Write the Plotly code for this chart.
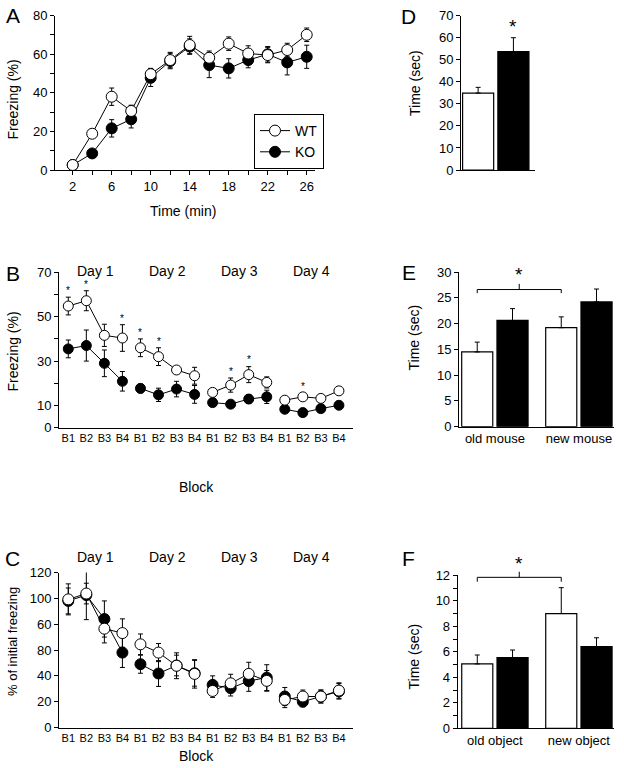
import plotly.graph_objects as go

W, H = 624, 768
FONT = "Liberation Sans, Arial, sans-serif"

# ---------------- data ----------------
# Panel A: freezing during conditioning
time_min = [2, 4, 6, 8, 10, 12, 14, 16, 18, 20, 22, 24, 26]
a_wt = [2.6, 18.8, 38.0, 30.6, 49.7, 57.0, 64.8, 58.2, 65.5, 60.4, 59.6, 62.2, 70.1]
a_wt_err = [1.0, 2.0, 4.5, 3.0, 3.0, 4.0, 4.5, 3.5, 3.5, 4.0, 4.0, 3.5, 3.5]
a_ko = [2.6, 8.6, 21.6, 26.3, 47.8, 56.5, 64.0, 54.4, 52.7, 57.0, 60.0, 55.8, 58.7]
a_ko_err = [1.0, 1.5, 4.5, 4.5, 4.5, 4.0, 4.0, 6.5, 5.0, 4.0, 4.0, 6.5, 6.0]

# Panels B and C: 4 days x 4 blocks
days = ["Day 1", "Day 2", "Day 3", "Day 4"]
blocks = ["B1", "B2", "B3", "B4"]
b_wt = [54.8, 57.2, 41.6, 40.4, 36.0, 32.0, 26.0, 23.4, 15.9, 19.2, 23.9, 20.4, 12.4, 13.9, 13.2, 16.6]
b_wt_err = [4.0, 4.5, 5.0, 6.0, 4.0, 4.0, 1.5, 3.8, 1.5, 3.2, 3.6, 2.5, 1.0, 1.5, 1.0, 1.5]
b_ko = [35.5, 37.0, 29.0, 20.9, 17.7, 14.8, 17.4, 15.0, 11.3, 10.6, 12.9, 13.9, 8.3, 6.8, 8.6, 10.1]
b_ko_err = [4.0, 7.0, 6.0, 4.4, 2.0, 3.0, 3.5, 4.0, 1.5, 1.0, 2.0, 3.0, 1.0, 1.0, 1.0, 1.0]
b_sig = [1, 1, 0, 1, 1, 1, 0, 0, 0, 1, 1, 0, 0, 1, 0, 0]

c_wt = [99.2, 103.7, 76.5, 73.1, 64.4, 58.0, 47.8, 41.5, 28.3, 34.2, 41.5, 36.1, 21.4, 24.0, 24.0, 28.6]
c_wt_err = [12.0, 8.0, 11.0, 11.0, 8.0, 7.0, 10.0, 11.0, 5.0, 7.0, 9.0, 8.0, 6.0, 5.0, 5.0, 6.0]
c_ko = [98.0, 102.5, 84.0, 58.0, 49.0, 41.8, 48.0, 42.0, 33.0, 30.4, 36.0, 38.6, 24.0, 20.0, 24.0, 28.0]
c_ko_err = [10.0, 19.0, 14.0, 11.5, 7.0, 10.0, 8.0, 10.0, 7.0, 6.0, 8.0, 10.0, 7.0, 4.0, 5.0, 6.0]
c_ticktext = ["0", "20", "40", "80", "60", "100", "120"]

# Panel D
d_wt, d_wt_err = [34.9], [2.6]
d_ko, d_ko_err = [53.7], [6.3]

# Panel E
e_cats = ["old mouse", "new mouse"]
e_wt, e_wt_err = [14.5, 19.2], [1.9, 2.1]
e_ko, e_ko_err = [20.6, 24.2], [2.3, 2.5]

# Panel F
f_cats = ["old object", "new object"]
f_wt, f_wt_err = [5.05, 9.0], [0.7, 2.03]
f_ko, f_ko_err = [5.54, 6.4], [0.6, 0.7]

# ---------------- helpers ----------------
def xdom(x0, x1):
    return [x0 / W, x1 / W]

def ydom(top, bottom):
    return [1 - bottom / H, 1 - top / H]

def px_x(x):
    return x / W

def px_y(y):
    return 1 - y / H

AX = dict(showline=True, linecolor="black", linewidth=1, showgrid=False, zeroline=False,
          ticks="outside", ticklen=4, tickwidth=1, tickcolor="black", automargin=False,
          tickfont=dict(family=FONT, size=13, color="black"))

def err(arr):
    return dict(type="data", array=arr, visible=True, color="black", thickness=1, width=2.5)

def marker(filled, size=10):
    return dict(symbol="circle", size=size, color="black" if filled else "white",
                line=dict(color="black", width=1))

fig = go.Figure()

# ---------------- Panel A ----------------
fig.add_trace(go.Scatter(x=time_min, y=a_ko, error_y=err(a_ko_err), mode="lines+markers",
                         name="KO", line=dict(color="black", width=1), marker=marker(True, 11),
                         xaxis="x", yaxis="y", legendrank=2))
fig.add_trace(go.Scatter(x=time_min, y=a_wt, error_y=err(a_wt_err), mode="lines+markers",
                         name="WT", line=dict(color="black", width=1), marker=marker(False, 11),
                         xaxis="x", yaxis="y", legendrank=1))

# ---------------- Panels B & C ----------------
def day_traces(wt, wt_e, ko, ko_e, xa, ya, size):
    for vals, errs, filled in ((ko, ko_e, True), (wt, wt_e, False)):
        for d in range(len(days)):
            sl = slice(4 * d, 4 * d + 4)
            fig.add_trace(go.Scatter(
                x=list(range(4 * d, 4 * d + 4)), y=vals[sl], error_y=err(errs[sl]),
                mode="lines+markers", line=dict(color="black", width=1),
                marker=marker(filled, size), showlegend=False, xaxis=xa, yaxis=ya))

day_traces(b_wt, b_wt_err, b_ko, b_ko_err, "x2", "y2", 10)
day_traces(c_wt, c_wt_err, c_ko, c_ko_err, "x3", "y3", 11)

# ---------------- Bars D, E, F ----------------
BW = 0.37
OFF_WT, OFF_KO = -0.395, 0.025

def bars(xs, wt, wt_e, ko, ko_e, xa, ya):
    fig.add_trace(go.Bar(x=xs, y=wt, error_y=dict(type="data", array=wt_e, visible=True, color="black",
                                                 thickness=1, width=2.5, symmetric=False, arrayminus=[0] * len(wt)),
                         width=BW, offset=OFF_WT, marker=dict(color="white", line=dict(color="black", width=1.2)),
                         showlegend=False, xaxis=xa, yaxis=ya))
    fig.add_trace(go.Bar(x=xs, y=ko, error_y=dict(type="data", array=ko_e, visible=True, color="black",
                                                 thickness=1, width=2.5, symmetric=False, arrayminus=[0] * len(ko)),
                         width=BW, offset=OFF_KO, marker=dict(color="black", line=dict(color="black", width=1.2)),
                         showlegend=False, xaxis=xa, yaxis=ya))

bars([0], d_wt, d_wt_err, d_ko, d_ko_err, "x4", "y4")
bars([0, 1], e_wt, e_wt_err, e_ko, e_ko_err, "x5", "y5")
bars([0, 1], f_wt, f_wt_err, f_ko, f_ko_err, "x6", "y6")

# ---------------- Layout ----------------
blk_ticks = list(range(16))
blk_text = blocks * 4

DOM = {
    "A": (xdom(55, 315), ydom(15.7, 170), [0, 80]),
    "B": (xdom(59, 353), ydom(272.3, 427.7), [0, 70]),
    "C": (xdom(59, 353), ydom(572.5, 727.5), [0, 120]),
    "D": (xdom(461, 535), ydom(15.7, 170), [0, 70]),
    "E": (xdom(459, 614), ydom(272, 426.7), [0, 30]),
    "F": (xdom(457.7, 614), ydom(575.3, 728.3), [0, 12]),
}

def yval_to_paper(panel, v):
    _, yd, yr = DOM[panel]
    return yd[0] + (v - yr[0]) / (yr[1] - yr[0]) * (yd[1] - yd[0])

layout = dict(
    width=W, height=H, margin=dict(l=0, r=0, t=0, b=0, autoexpand=False),
    paper_bgcolor="white", plot_bgcolor="white", barmode="overlay",
    font=dict(family=FONT, size=13, color="black"),
    showlegend=True,
    legend=dict(x=px_x(254), y=px_y(114), xanchor="left", yanchor="top",
                bordercolor="black", borderwidth=1, bgcolor="white",
                font=dict(family=FONT, size=14, color="black"), itemwidth=30,
                tracegroupgap=0),
    # A
    xaxis=dict(AX, domain=DOM["A"][0], range=[0.185, 26.85], tickvals=time_min,
               ticktext=[str(t) if t % 4 == 2 else "" for t in time_min], anchor="y"),
    yaxis=dict(AX, domain=DOM["A"][1], range=DOM["A"][2], tickvals=[0, 20, 40, 60, 80],
               minor=dict(tickvals=[10, 30, 50, 70], ticks="outside", ticklen=4, tickcolor="black", showgrid=False),
               anchor="x"),
    # B
    xaxis2=dict(AX, domain=DOM["B"][0], range=[-0.515, 15.78], tickvals=blk_ticks, ticktext=blk_text,
                ticks="", ticklen=0, tickfont=dict(family=FONT, size=11, color="black"), anchor="y2"),
    yaxis2=dict(AX, domain=DOM["B"][1], range=DOM["B"][2], tickvals=[0, 10, 30, 50, 70],
                minor=dict(tickvals=[20, 40, 60], ticks="outside", ticklen=4, tickcolor="black", showgrid=False),
                anchor="x2"),
    # C
    xaxis3=dict(AX, domain=DOM["C"][0], range=[-0.515, 15.78], tickvals=blk_ticks, ticktext=blk_text,
                ticks="", ticklen=0, tickfont=dict(family=FONT, size=11, color="black"), anchor="y3"),
    yaxis3=dict(AX, domain=DOM["C"][1], range=DOM["C"][2], tickvals=[0, 20, 40, 60, 80, 100, 120],
                ticktext=c_ticktext, anchor="x3"),
    # D
    xaxis4=dict(AX, domain=DOM["D"][0], range=[-0.414, 0.467], ticks="", showticklabels=False, anchor="y4"),
    yaxis4=dict(AX, domain=DOM["D"][1], range=DOM["D"][2], dtick=10, anchor="x4"),
    # E
    xaxis5=dict(AX, domain=DOM["E"][0], range=[-0.427, 1.418], ticks="", tickvals=[0, 1],
                ticktext=e_cats, anchor="y5"),
    yaxis5=dict(AX, domain=DOM["E"][1], range=DOM["E"][2], dtick=5, anchor="x5"),
    # F
    xaxis6=dict(AX, domain=DOM["F"][0], range=[-0.443, 1.418], ticks="", tickvals=[0, 1],
                ticktext=f_cats, anchor="y6"),
    yaxis6=dict(AX, domain=DOM["F"][1], range=DOM["F"][2], dtick=2,
                minor=dict(dtick=1, ticks="outside", ticklen=4, tickcolor="black", showgrid=False),
                anchor="x6"),
)
fig.update_layout(**layout)

ann = []
def txt(x, y, s, size=14, angle=0, **kw):
    d = dict(x=x, y=y, text=s, showarrow=False, font=dict(family=FONT, size=size, color="black"),
             textangle=angle, xanchor="center", yanchor="middle")
    d.update(kw)
    if "xref" not in d:
        d["xref"] = "paper"
    if "yref" not in d:
        d["yref"] = "paper"
    ann.append(d)

# panel letters
for L, (lx, ly) in zip("ABCDEF", [(13, 15), (13, 273), (12, 558), (408, 17), (409, 272), (408, 558)]):
    txt(px_x(lx), px_y(ly), L, size=21)

# axis titles
txt(px_x(183), px_y(211), "Time (min)", 14)
txt(px_x(12.5), px_y(100), "Freezing (%)", 14, angle=-90)
txt(px_x(12.5), px_y(352), "Freezing (%)", 14, angle=-90)
txt(px_x(196), px_y(487), "Block", 14)
txt(px_x(12), px_y(642), "% of initial freezing", 13, angle=-90)
txt(px_x(196), px_y(756), "Block", 14)
txt(px_x(415), px_y(83), "Time (sec)", 14, angle=-90)
txt(px_x(413.5), px_y(338), "Time (sec)", 14, angle=-90)
txt(px_x(413.5), px_y(657), "Time (sec)", 14, angle=-90)

# day labels
for i, dname in enumerate(days):
    txt(4 * i + 1.5, px_y(271), dname, 14, xref="x2")
    txt(4 * i + 1.5, px_y(557), dname, 14, xref="x3")

# significance stars in B
for i, s in enumerate(b_sig):
    if s:
        txt(i, yval_to_paper("B", b_wt[i] + b_wt_err[i] + 3.0), "*", 10, xref="x2")

# D star
txt(OFF_KO + BW / 2, yval_to_paper("D", 65.1), "*", 19, xref="x4")

# brackets E and F
shapes = []
def bracket(panel, xa, ylev, ydrop, ytop, star_y):
    xl = OFF_WT + BW / 2
    xr = 1 + OFF_WT + BW / 2
    xm = (xl + xr) / 2
    pl, pd, pt = (yval_to_paper(panel, v) for v in (ylev, ydrop, ytop))
    line = dict(color="black", width=1)
    shapes.append(dict(type="path", xref=xa, yref="paper", line=line,
                       path=f"M {xl} {pd} L {xl} {pl} L {xr} {pl} L {xr} {pd}"))
    shapes.append(dict(type="line", xref=xa, yref="paper", x0=xm, x1=xm, y0=pl, y1=pt, line=line))
    txt(xm, yval_to_paper(panel, star_y), "*", 19, xref=xa)

bracket("E", "x5", 26.6, 25.9, 27.7, 29.5)
bracket("F", "x6", 11.84, 11.5, 12.28, 12.9)

fig.update_layout(annotations=ann, shapes=shapes)
fig.write_html("out.html", config={"displayModeBar": False},
               post_script="document.body.style.margin='0';document.body.style.padding='0';"
                           "document.documentElement.style.margin='0';")
